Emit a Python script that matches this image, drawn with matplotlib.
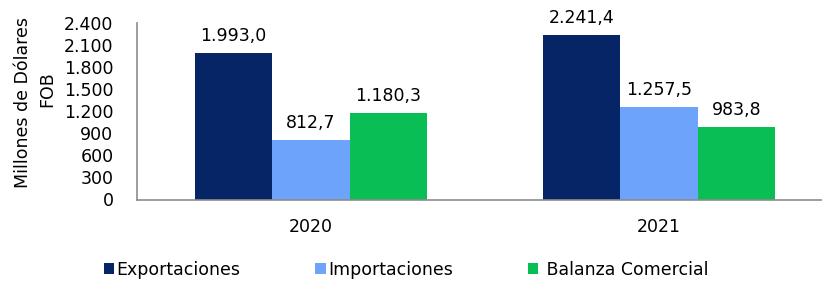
import numpy as np
import matplotlib
matplotlib.use("Agg")
import matplotlib.pyplot as plt
from matplotlib.ticker import FuncFormatter

plt.rcParams['font.family'] = ['DejaVu Sans']

years = ['2020', '2021']
series = ['Exportaciones', 'Importaciones', ' Balanza Comercial']
exportaciones = [1993.0, 2241.4]
importaciones = [812.7, 1257.5]
balanza = [1180.3, 983.8]
colores = ['#052566', '#6DA3FA', '#08BE55']
yticks = [0, 300, 600, 900, 1200, 1500, 1800, 2100, 2400]


def es_num(v, dec=1):
    s = f"{v:,.{dec}f}"
    return s.replace(',', 'X').replace('.', ',').replace('X', '.')


fs = 12.5
fig = plt.figure(figsize=(8.22, 2.81), dpi=100)
ax = fig.add_axes([137 / 822, 81.5 / 281, 696 / 822, 176.1 / 281])

x = np.arange(len(years))
w = 0.2222
valores = [exportaciones, importaciones, balanza]
for i, (vals, nombre, c) in enumerate(zip(valores, series, colores)):
    barras = ax.bar(x + (i - 1) * w, vals, w, color=c, label=nombre, zorder=2)
    for b, v in zip(barras, vals):
        ax.annotate(es_num(v), (b.get_x() + b.get_width() / 2, v),
                    xytext=(0, 6), textcoords='offset points',
                    ha='center', va='bottom', fontsize=fs)

ax.set_xlim(-0.5, 1.5)
ax.set_ylim(0, 2400)
ax.set_yticks(yticks)
ax.yaxis.set_major_formatter(FuncFormatter(lambda v, p: es_num(v, 0)))
ax.set_xticks(x)
ax.set_xticklabels(years)
ax.tick_params(axis='y', length=0, pad=17, labelsize=fs)
ax.tick_params(axis='x', length=0, pad=13, labelsize=fs)
for s in ['top', 'right']:
    ax.spines[s].set_visible(False)
for s in ['left', 'bottom']:
    ax.spines[s].set_color('#8c8c8c')
    ax.spines[s].set_linewidth(1.2)

fig.text(23 / 822, 1 - 103 / 281, 'Millones de Dólares', rotation=90,
         ha='center', va='center', fontsize=fs)
fig.text(47 / 822, 1 - 89 / 281, 'FOB', rotation=90,
         ha='center', va='center', fontsize=fs)

fig.legend(loc='center', bbox_to_anchor=(406 / 822, 1 - 270 / 281), ncol=3,
           frameon=False, fontsize=fs, handlelength=0.6, handleheight=0.6,
           handletextpad=0.15, columnspacing=4.3)

fig.savefig('out.png', dpi=100)
